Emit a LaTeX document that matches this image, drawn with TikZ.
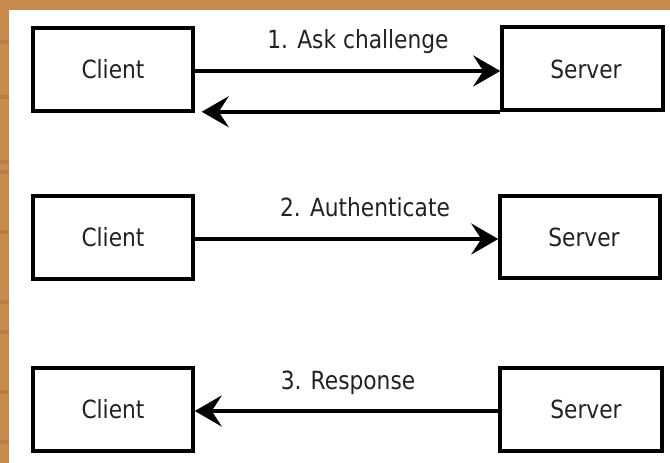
\documentclass[tikz,border=0pt]{standalone}
\usepackage{fontspec}
\newfontfamily\labelfont[FakeStretch=0.87]{DejaVu Sans}
\usetikzlibrary{arrows.meta,calc}
\definecolor{wood}{HTML}{C98A4E}
\definecolor{wooddark}{HTML}{B0703E}
\definecolor{inkgray}{HTML}{222222}
\tikzset{
  box/.style={draw=black, line width=3.5pt, fill=white, minimum width=160pt,
    minimum height=83pt, inner sep=0pt},
  msg/.style={line width=3.5pt,
    -{Stealth[length=27pt, width=31pt, inset=10pt]}},
  lbl/.style={text=inkgray, font=\labelfont\fontsize{25pt}{28pt}\selectfont,
    anchor=base, inner sep=0pt},
  boxtext/.style={text=inkgray, font=\labelfont\fontsize{25pt}{28pt}\selectfont,
    anchor=base, inner sep=0pt}
}
\begin{document}
\begin{tikzpicture}[x=1pt, y=-1pt]
  % frame: wooden edge along top and left, white sheet on top
  \useasboundingbox (0,0) rectangle (670,463);
  \fill[wood] (0,0) rectangle (670,463);
  \foreach \yy in {40,95,160,170,230,300,330,390,440}
    \fill[wooddark, opacity=0.5] (0,\yy) rectangle (9,\yy+4);
  \fill[white] (9,10) rectangle (670,463);

  % row 1
  \node[box] (c1) at (113,69.5) {};
  \node[box, minimum width=161pt] (s1) at (582.5,68.5) {};
  \node[boxtext] (c1t) at (113,78) {Client};
  \node[boxtext] (s1t) at (586,78) {Server};
  \node[lbl] (l1) at (358,48) {1. Ask challenge};
  \coordinate (c1r) at ($(c1.east)+(0,1.5)$);
  \draw[msg] (c1r) -- (s1.west |- c1r);
  \coordinate (c1b) at ($(c1.south east)+(7,-1)$);
  \draw[msg] (s1.south west) -- (c1b);

  % row 2
  \node[box] (c2) at (113,237.5) {};
  \node[box, minimum height=82pt] (s2) at (580,237) {};
  \node[boxtext] (c2t) at (113,246) {Client};
  \node[boxtext] (s2t) at (584,246) {Server};
  \node[lbl] (l2) at (365,216) {2. Authenticate};
  \coordinate (c2r) at ($(c2.east)+(0,1.5)$);
  \draw[msg] (c2r) -- (s2.west |- c2r);

  % row 3
  \node[box] (c3) at (113,409.5) {};
  \node[box, minimum width=162pt] (s3) at (581,409.5) {};
  \node[boxtext] (c3t) at (113,418) {Client};
  \node[boxtext] (s3t) at (586,418) {Server};
  \node[lbl] (l3) at (348,389) {3. Response};
  \coordinate (s3l) at ($(s3.west)+(0,1.5)$);
  \draw[msg] (s3l) -- (c3.east |- s3l);
\end{tikzpicture}
\end{document}
